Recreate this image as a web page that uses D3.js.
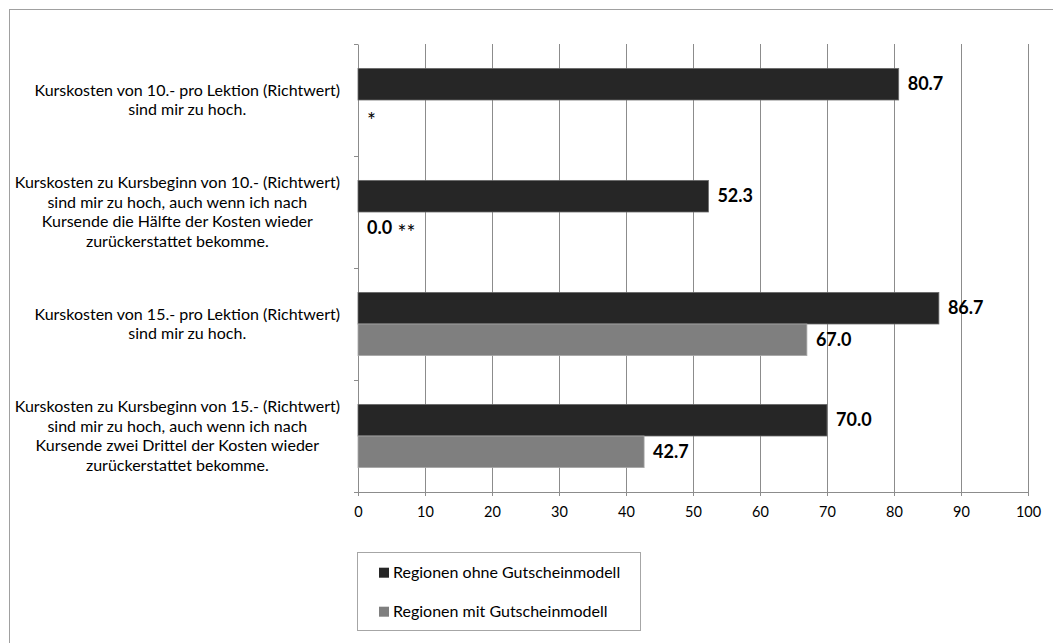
<!DOCTYPE html>
<head>
<meta charset="utf-8">
<title>Kurskosten</title>
<script src="https://cdn.jsdelivr.net/npm/d3@7/dist/d3.min.js"></script>
<style>
    body { margin: 0; background: #fff; }
    text { font-family: Lato, "Open Sans", sans-serif; fill: #000; }
</style>
</head>

<body>
</body>
<script>
    // chart data
    var categories = [
        ["Kurskosten von 10.- pro Lektion (Richtwert)", "sind mir zu hoch."],
        ["Kurskosten zu Kursbeginn von 10.- (Richtwert)", "sind mir zu hoch, auch wenn ich nach", "Kursende die Hälfte der Kosten wieder", "zurückerstattet bekomme."],
        ["Kurskosten von 15.- pro Lektion (Richtwert)", "sind mir zu hoch."],
        ["Kurskosten zu Kursbeginn von 15.- (Richtwert)", "sind mir zu hoch, auch wenn ich nach", "Kursende zwei Drittel der Kosten wieder", "zurückerstattet bekomme."]
    ];
    var seriesNames = ["Regionen ohne Gutscheinmodell", "Regionen mit Gutscheinmodell"];
    var ohneValues = [80.7, 52.3, 86.7, 70.0];
    var mitValues = [null, 0.0, 67.0, 42.7];
    var mitNotes = ["*", "**", "", ""];
    var xTicks = [0, 10, 20, 30, 40, 50, 60, 70, 80, 90, 100];

    var colors = ["#262626", "#7f7f7f"];

    var W = 1053, H = 643;
    var plot = { left: 358, right: 1028, top: 44, bottom: 492 };

    var svg = d3.select("body")
                .append("svg")
                .attr("width", W)
                .attr("height", H);

    // outer chart frame
    svg.append("rect")
        .attr("x", 9.5)
        .attr("y", 9.5)
        .attr("width", 1100)
        .attr("height", 700)
        .attr("fill", "none")
        .attr("stroke", "#a0a0a0");

    var x = d3.scaleLinear()
        .domain([0, 100])
        .range([plot.left, plot.right]);

    var y = d3.scaleBand()
        .domain(d3.range(categories.length))
        .range([plot.top, plot.bottom]);

    var ySub = d3.scaleBand()
        .domain([0, 1])
        .range([0, y.bandwidth()])
        .paddingOuter(0.772);

    // vertical grid lines
    svg.append("g")
        .selectAll("line")
        .data(xTicks.slice(1))
        .enter()
        .append("line")
            .attr("x1", d => x(d) + 0.5)
            .attr("x2", d => x(d) + 0.5)
            .attr("y1", plot.top)
            .attr("y2", plot.bottom)
            .attr("stroke", "#8c8c8c")
            .attr("stroke-width", 1);

    // bottom axis
    var axisX = svg.append("g")
        .attr("transform", "translate(0," + plot.bottom + ")")
        .call(d3.axisBottom(x)
            .tickValues(xTicks)
            .tickSize(4)
            .tickSizeOuter(0)
            .tickPadding(11));
    axisX.select(".domain").attr("stroke", "#8c8c8c");
    axisX.selectAll(".tick line").attr("stroke", "#8c8c8c");
    axisX.selectAll("text")
        .style("font-family", "Lato")
        .style("font-size", "14.5px")
        .attr("fill", "#000");

    // left axis, ticks sit between categories
    var yEdges = d3.scaleLinear()
        .domain([0, categories.length])
        .range([plot.top, plot.bottom]);
    var axisY = svg.append("g")
        .attr("transform", "translate(" + plot.left + ",0)")
        .call(d3.axisLeft(yEdges)
            .tickValues(d3.range(categories.length + 1))
            .tickFormat("")
            .tickSize(4)
            .tickSizeOuter(0));
    axisY.select(".domain").attr("stroke", "#8c8c8c");
    axisY.selectAll(".tick line").attr("stroke", "#8c8c8c");

    // category labels: each block is right aligned to the axis,
    // lines centred inside the block (like Excel does it)
    var labelRight = 340;
    var catLabels = svg.append("g")
        .selectAll("text")
        .data(categories)
        .enter()
        .append("text")
            .attr("text-anchor", "middle")
            .style("font-size", "16px");
    catLabels.each(function(lines, i) {
        var lh = 19.5;
        var cy = y(i) + y.bandwidth() / 2;
        var start = cy - (lines.length - 1) * lh / 2;
        var spans = d3.select(this).selectAll("tspan")
            .data(lines)
            .enter()
            .append("tspan")
                .attr("y", (d, j) => start + j * lh)
                .attr("dy", "0.35em")
                .text(d => d);
        var widest = d3.max(spans.nodes(), n => n.getComputedTextLength());
        spans.attr("x", labelRight - widest / 2);
    });

    // bars
    var seriesData = [ohneValues, mitValues];
    seriesData.forEach(function(vals, s) {
        var g = svg.append("g");
        g.selectAll("rect")
            .data(vals.map((v, i) => ({ v: v, i: i })).filter(d => d.v != null))
            .enter()
            .append("rect")
                .attr("x", x(0))
                .attr("y", d => y(d.i) + ySub(s))
                .attr("width", d => x(d.v) - x(0))
                .attr("height", ySub.bandwidth())
                .attr("fill", colors[s])
                .attr("stroke", s == 0 ? "#6a6a6a" : "#a8a8a8")
                .attr("stroke-width", 0.8);

        // value labels (baseline shift done per tspan)
        var labels = g.selectAll("text")
            .data(vals.map((v, i) => ({ v: v, i: i })))
            .enter()
            .append("text")
                .attr("x", d => x(d.v == null ? 0 : d.v) + 9)
                .attr("y", d => y(d.i) + ySub(s) + ySub.bandwidth() / 2)
                .style("font-size", "18px");
        labels.filter(d => d.v != null)
            .append("tspan")
            .attr("font-weight", "bold")
            .attr("dy", 6.3)
            .text(d => d.v.toFixed(1));
        // footnote marks, a bit larger and lowered like the original
        labels.append("tspan")
            .style("font-size", "21px")
            .attr("dy", d => d.v == null ? 12.6 : 6.3)
            .text(d => {
                var note = s == 1 ? mitNotes[d.i] : "";
                if (!note) return "";
                return d.v == null ? note : " " + note;
            });
    });

    // legend
    var legend = svg.append("g");
    legend.append("rect")
        .attr("x", 357.5)
        .attr("y", 552.5)
        .attr("width", 283)
        .attr("height", 78)
        .attr("fill", "#fff")
        .attr("stroke", "#a6a6a6");
    legend.selectAll("rect.sw")
        .data(seriesNames)
        .enter()
        .append("rect")
            .attr("class", "sw")
            .attr("x", 379)
            .attr("y", (d, i) => 567.7 + i * 39)
            .attr("width", 10)
            .attr("height", 10)
            .attr("fill", (d, i) => colors[i]);
    legend.selectAll("text")
        .data(seriesNames)
        .enter()
        .append("text")
            .attr("x", 393)
            .attr("y", (d, i) => 572.7 + i * 39)
            .attr("dy", "0.35em")
            .style("font-size", "16px")
            .text(d => d);
</script>
</html>
